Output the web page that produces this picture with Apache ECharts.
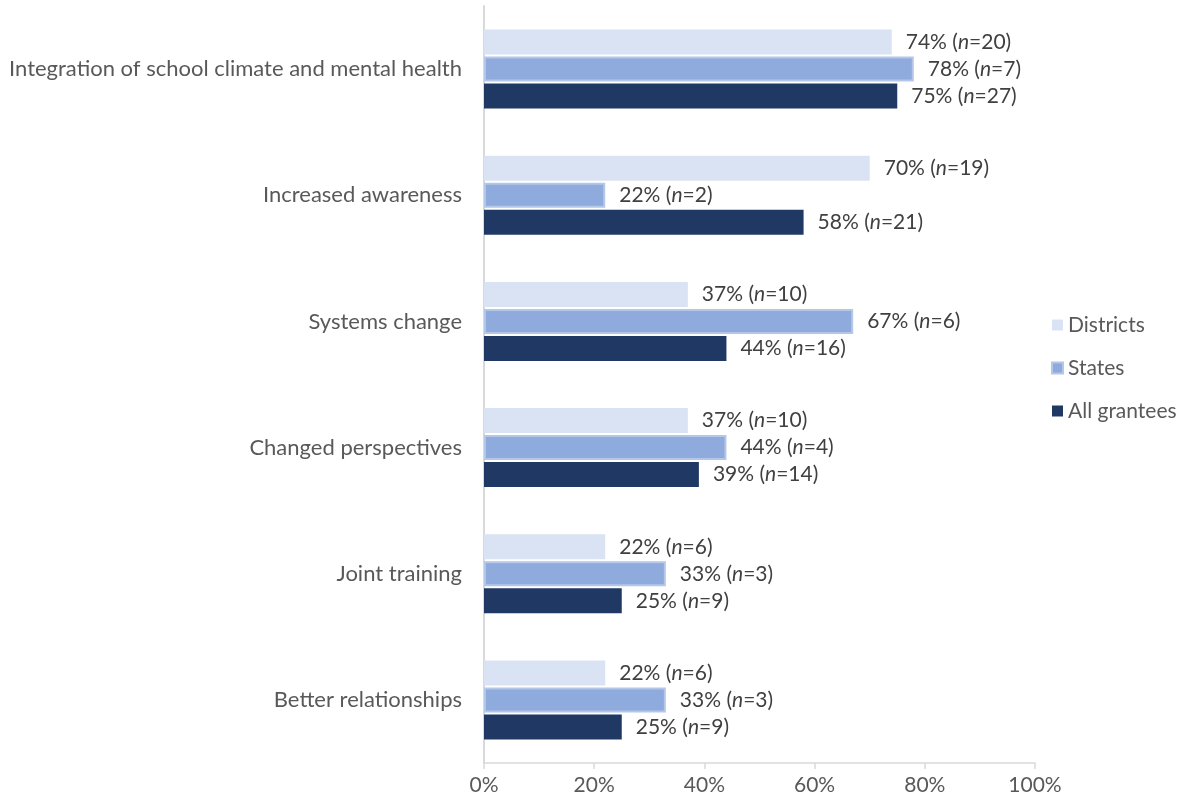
<!DOCTYPE html>
<html>
<head>
<meta charset="utf-8">
<script src="https://cdn.jsdelivr.net/npm/echarts@6/dist/echarts.min.js"></script>
<style>
  html, body { margin: 0; padding: 0; background: #ffffff; }
  #chart { width: 1184px; height: 806px; }
</style>
</head>
<body>
<div id="chart"></div>
<script>
// Outcomes reported by grantees, percent and count per group
const categories = [
  'Integration of school climate and mental health',
  'Increased awareness',
  'Systems change',
  'Changed perspectives',
  'Joint training',
  'Better relationships'
];
const districtsPct = [74, 70, 37, 37, 22, 22];
const districtsN   = [20, 19, 10, 10, 6, 6];
const statesPct    = [78, 22, 67, 44, 33, 33];
const statesN      = [7, 2, 6, 4, 3, 3];
const allPct       = [75, 58, 44, 39, 25, 25];
const allN         = [27, 21, 16, 14, 9, 9];
const xTicks = [0, 20, 40, 60, 80, 100];

const FONT = 'Lato, "Noto Sans", sans-serif';
const FS = 21;

function labelFor(counts) {
  return {
    show: true,
    position: 'right',
    distance: 14,
    formatter: p => '{a|' + p.value + '% (}{i|n}{a|=' + counts[p.dataIndex] + ')}',
    rich: {
      a: { fontFamily: FONT, fontSize: FS, color: '#404040' },
      i: { fontFamily: FONT, fontSize: FS, color: '#404040', fontStyle: 'italic' }
    }
  };
}

const chart = echarts.init(document.getElementById('chart'), null, { renderer: 'canvas' });
chart.setOption({
  animation: false,
  backgroundColor: '#ffffff',
  grid: { left: 484, right: 149, top: 6, bottom: 43, containLabel: false },
  legend: {
    orient: 'vertical',
    left: 1046,
    top: 309,
    itemWidth: 11,
    itemHeight: 11,
    itemGap: 21,
    icon: 'rect',
    textStyle: { fontFamily: FONT, fontSize: FS, color: '#595959', lineHeight: 22 },
    data: ['Districts', 'States', 'All grantees']
  },
  xAxis: {
    type: 'value',
    min: 0,
    max: 100,
    interval: 20,
    axisLine: { show: true, lineStyle: { color: '#d9d9d9', width: 1.5 } },
    axisTick: { show: true, length: 6, lineStyle: { color: '#d9d9d9', width: 1.5 } },
    splitLine: { show: false },
    axisLabel: {
      margin: 12,
      fontFamily: FONT,
      fontSize: FS,
      color: '#595959',
      formatter: v => xTicks.includes(v) ? v + '%' : ''
    }
  },
  yAxis: {
    type: 'category',
    inverse: true,
    data: categories,
    axisLine: { show: true, lineStyle: { color: '#d9d9d9', width: 2 } },
    axisTick: { show: false },
    axisLabel: { margin: 22, fontFamily: FONT, fontSize: 22, color: '#595959' }
  },
  series: [
    {
      name: 'Districts', type: 'bar', data: districtsPct,
      barWidth: 25, barGap: '8%', barCategoryGap: '37%',
      itemStyle: { color: '#dae3f3' },
      label: labelFor(districtsN)
    },
    {
      name: 'States', type: 'bar', data: statesPct,
      barWidth: 25, barGap: '8%',
      itemStyle: { color: '#8faadc', borderColor: '#b4c7e7', borderWidth: 2 },
      label: labelFor(statesN)
    },
    {
      name: 'All grantees', type: 'bar', data: allPct,
      barWidth: 25, barGap: '8%',
      itemStyle: { color: '#203864' },
      label: labelFor(allN)
    }
  ]
});
</script>
</body>
</html>
